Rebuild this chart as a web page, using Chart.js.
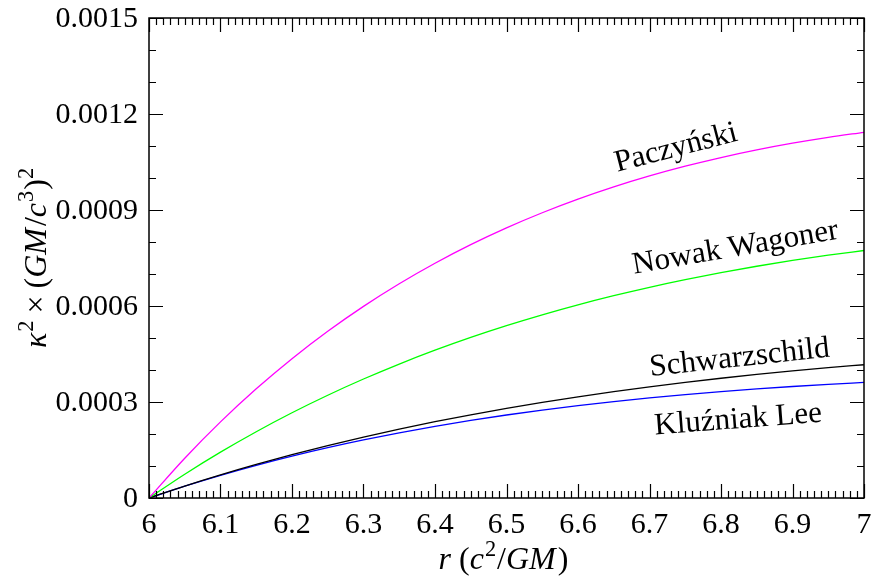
<!DOCTYPE html>
<html>
<head>
<meta charset="utf-8">
<title>Epicyclic frequency</title>
<script src="https://cdn.jsdelivr.net/npm/chart.js@4.4.1/dist/chart.umd.min.js"></script>
<style>
  html, body { margin: 0; padding: 0; background: #fff; }
  #wrap { width: 872px; height: 578px; }
</style>
</head>
<body>
<div id="wrap"><canvas id="kappaChart" width="872" height="578"></canvas></div>
<script>
// radius values r (c^2/GM)
const radius = [6, 6.05, 6.1, 6.15, 6.2, 6.25, 6.3, 6.35, 6.4, 6.45, 6.5,
    6.55, 6.6, 6.65, 6.7, 6.75, 6.8, 6.85, 6.9, 6.95, 7];

// kappa^2 (GM/c^3)^2
const paczynski = [0, 1.2441e-4, 2.3786e-4, 3.4125e-4, 4.3540e-4, 5.2106e-4, 5.9893e-4,
    6.6961e-4, 7.3370e-4, 7.9172e-4, 8.4415e-4, 8.9143e-4, 9.3397e-4, 9.7214e-4,
    1.00631e-3, 1.03676e-3, 1.06379e-3, 1.08768e-3, 1.10868e-3, 1.12699e-3, 1.14286e-3];
const nowakWagoner = [0, 7.433e-5, 1.4327e-4, 2.0713e-4, 2.6636e-4, 3.2113e-4, 3.7181e-4,
    4.1867e-4, 4.6193e-4, 5.0187e-4, 5.3867e-4, 5.7254e-4, 6.0366e-4, 6.3224e-4,
    6.5846e-4, 6.8243e-4, 7.0429e-4, 7.2422e-4, 7.4233e-4, 7.5871e-4, 7.7346e-4];
const schwarzschild = [0, 3.732e-5, 7.222e-5, 1.0486e-4, 1.3535e-4, 1.6384e-4, 1.9044e-4,
    2.1526e-4, 2.3842e-4, 2.6000e-4, 2.8010e-4, 2.9881e-4, 3.1621e-4, 3.3237e-4,
    3.4738e-4, 3.6128e-4, 3.7416e-4, 3.8606e-4, 3.9705e-4, 4.0718e-4, 4.1649e-4];
const kluzniakLee = [0, 3.701e-5, 7.104e-5, 1.0233e-4, 1.3105e-4, 1.5742e-4, 1.8158e-4,
    2.0372e-4, 2.2397e-4, 2.4248e-4, 2.5936e-4, 2.7474e-4, 2.8873e-4, 3.0142e-4,
    3.1292e-4, 3.2329e-4, 3.3263e-4, 3.4101e-4, 3.4850e-4, 3.5516e-4, 3.6105e-4];

// tick labels
const xTicks = ['6', '6.1', '6.2', '6.3', '6.4', '6.5', '6.6', '6.7', '6.8', '6.9', '7'];
const yTicks = ['0', '0.0003', '0.0006', '0.0009', '0.0012', '0.0015'];

const FONT = '"Liberation Serif", "DejaVu Serif", serif';

function toPoints(ys) {
    return radius.map((r, i) => ({ x: r, y: ys[i] }));
}

function makeSet(label, ys, color) {
    return {
        label: label,
        data: toPoints(ys),
        borderColor: color,
        borderWidth: 1.3,
        pointRadius: 0,
        fill: false,
        cubicInterpolationMode: 'monotone'
    };
}

// draws a run of text pieces, some italic and some raised, centred on 0,0
function richWidth(ctx, parts, size) {
    let w = 0;
    parts.forEach(p => {
        const s = p.sup ? size * 0.7 : size;
        ctx.font = (p.it ? 'italic ' : '') + s + 'px ' + FONT;
        w += ctx.measureText(p.t).width + (p.gap || 0);
    });
    return w;
}

function drawRich(ctx, parts, size) {
    let x = -richWidth(ctx, parts, size) / 2;
    parts.forEach(p => {
        const s = p.sup ? size * 0.7 : size;
        ctx.font = (p.it ? 'italic ' : '') + s + 'px ' + FONT;
        ctx.fillText(p.t, x, p.sup ? -size * 0.42 : 0);
        x += ctx.measureText(p.t).width + (p.gap || 0);
    });
}

const framePlugin = {
    id: 'frame',
    afterDatasetsDraw(chart) {
        const ctx = chart.ctx;
        const a = chart.chartArea;
        const xs = chart.scales.x;
        const ys = chart.scales.y;
        ctx.save();
        ctx.strokeStyle = '#000';
        ctx.lineWidth = 1.5;
        ctx.strokeRect(a.left, a.top, a.right - a.left, a.bottom - a.top);

        // x ticks, inward on bottom and top
        ctx.lineWidth = 1.2;
        ctx.beginPath();
        for (let i = 0; i <= 100; i++) {
            const px = Math.round(xs.getPixelForValue(6 + i * 0.01)) + 0.5;
            const len = i % 10 === 0 ? 14 : 7;
            ctx.moveTo(px, a.bottom); ctx.lineTo(px, a.bottom - len);
            ctx.moveTo(px, a.top); ctx.lineTo(px, a.top + len);
        }
        // y ticks, inward on left and right
        for (let i = 0; i <= 15; i++) {
            const py = Math.round(ys.getPixelForValue(i * 0.0001)) + 0.5;
            const len = i % 3 === 0 ? 14 : 7;
            ctx.moveTo(a.left, py); ctx.lineTo(a.left + len, py);
            ctx.moveTo(a.right, py); ctx.lineTo(a.right - len, py);
        }
        ctx.stroke();

        // tick labels
        ctx.fillStyle = '#000';
        ctx.font = '30px ' + FONT;
        ctx.textAlign = 'center';
        ctx.textBaseline = 'middle';
        xTicks.forEach(t => {
            ctx.fillText(t, xs.getPixelForValue(parseFloat(t)), a.bottom + 27);
        });
        ctx.textAlign = 'right';
        yTicks.forEach(t => {
            ctx.fillText(t, a.left - 11, ys.getPixelForValue(parseFloat(t)) + 1);
        });

        // curve labels
        ctx.textAlign = 'center';
        ctx.textBaseline = 'middle';
        chart.options.plugins.frame.labels.forEach(l => {
            ctx.save();
            ctx.translate(xs.getPixelForValue(l.x), ys.getPixelForValue(l.y));
            ctx.rotate(l.angle * Math.PI / 180);
            ctx.font = '31px ' + FONT;
            ctx.fillText(l.text, 0, 0);
            ctx.restore();
        });

        // axis titles
        ctx.textAlign = 'left';
        ctx.textBaseline = 'alphabetic';
        ctx.save();
        ctx.translate((a.left + a.right) / 2 - 3, 569);
        drawRich(ctx, [
            { t: 'r', it: true, gap: 8 },
            { t: '(' },
            { t: 'c', it: true, gap: 1 },
            { t: '2', sup: true, gap: 1 },
            { t: '/' },
            { t: 'GM', it: true, gap: 2 },
            { t: ')' }
        ], 32);
        ctx.restore();

        ctx.save();
        ctx.translate(46, (a.top + a.bottom) / 2);
        ctx.rotate(-Math.PI / 2);
        drawRich(ctx, [
            { t: 'κ', it: true, gap: 1 },
            { t: '2', sup: true, gap: 7 },
            { t: '×', gap: 7 },
            { t: '(' },
            { t: 'GM', it: true, gap: 2 },
            { t: '/' },
            { t: 'c', it: true, gap: 1 },
            { t: '3', sup: true, gap: 1 },
            { t: ')' },
            { t: '2', sup: true }
        ], 32);
        ctx.restore();

        ctx.restore();
    }
};

new Chart(document.getElementById('kappaChart').getContext('2d'), {
    type: 'line',
    data: {
        datasets: [
            makeSet('Paczyński', paczynski, '#ff00ff'),
            makeSet('Nowak Wagoner', nowakWagoner, '#00ff00'),
            makeSet('Schwarzschild', schwarzschild, '#000000'),
            makeSet('Kluźniak Lee', kluzniakLee, '#0000ff')
        ]
    },
    options: {
        responsive: false,
        animation: false,
        devicePixelRatio: 1,
        layout: { padding: { left: 149, right: 8, top: 18, bottom: 80 } },
        scales: {
            x: { type: 'linear', min: 6, max: 7, display: false },
            y: { type: 'linear', min: 0, max: 0.0015, display: false }
        },
        plugins: {
            legend: { display: false },
            tooltip: { enabled: false },
            frame: {
                labels: [
                    { text: 'Paczyński', x: 6.737, y: 0.001093, angle: -14.5 },
                    { text: 'Nowak Wagoner', x: 6.82, y: 0.000781, angle: -9.7 },
                    { text: 'Schwarzschild', x: 6.826, y: 0.000437, angle: -6.2 },
                    { text: 'Kluźniak Lee', x: 6.824, y: 0.000244, angle: -4.4 }
                ]
            }
        }
    },
    plugins: [framePlugin]
});
</script>
</body>
</html>
